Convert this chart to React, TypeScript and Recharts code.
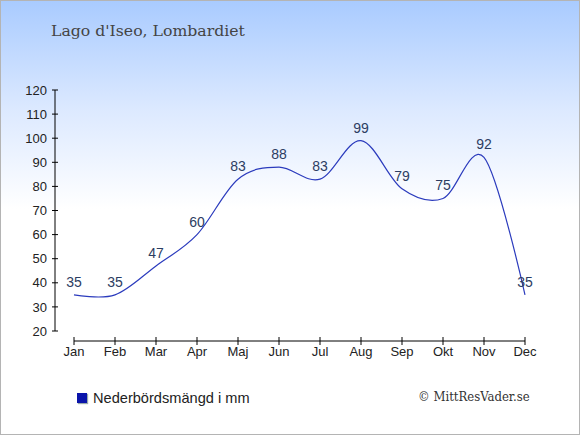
import React from "react";
import { LabelList, Line, LineChart, XAxis, YAxis } from "recharts";

const months = ["Jan", "Feb", "Mar", "Apr", "Maj", "Jun", "Jul", "Aug", "Sep", "Okt", "Nov", "Dec"];
const rainfall = [35, 35, 47, 60, 83, 88, 83, 99, 79, 75, 92, 35];
const yTicks = [20, 30, 40, 50, 60, 70, 80, 90, 100, 110, 120];

const data = months.map((month, i) => ({ month, rain: rainfall[i] }));

// cardinal spline (tension 0), same as d3.curveCardinal
class Cardinal {
  _context: any;
  _k = 1 / 6;
  _point = 0;
  _x0 = NaN; _x1 = NaN; _x2 = NaN;
  _y0 = NaN; _y1 = NaN; _y2 = NaN;
  constructor(context: any) {
    this._context = context;
  }
  areaStart() {}
  areaEnd() {}
  lineStart() {
    this._x0 = this._x1 = this._x2 = NaN;
    this._y0 = this._y1 = this._y2 = NaN;
    this._point = 0;
  }
  lineEnd() {
    if (this._point === 2) this._context.lineTo(this._x2, this._y2);
    else if (this._point === 3) this.bez(this._x1, this._y1);
  }
  bez(x: number, y: number) {
    this._context.bezierCurveTo(
      this._x1 + this._k * (this._x2 - this._x0),
      this._y1 + this._k * (this._y2 - this._y0),
      this._x2 + this._k * (this._x1 - x),
      this._y2 + this._k * (this._y1 - y),
      this._x2,
      this._y2
    );
  }
  point(x: number, y: number) {
    x = +x;
    y = +y;
    if (this._point === 0) {
      this._point = 1;
      this._context.moveTo(x, y);
    } else if (this._point === 1) {
      this._point = 2;
      this._x1 = x;
      this._y1 = y;
    } else {
      if (this._point === 2) this._point = 3;
      this.bez(x, y);
    }
    this._x0 = this._x1; this._x1 = this._x2; this._x2 = x;
    this._y0 = this._y1; this._y1 = this._y2; this._y2 = y;
  }
}

const cardinal = (context: any) => new Cardinal(context);

const sans = "'Liberation Sans', Arial, sans-serif";
const serif = "'DejaVu Serif', 'Liberation Serif', serif";

export default function App() {
  return (
    <div
      style={{
        position: "absolute",
        left: 0,
        top: 0,
        width: 580,
        height: 435,
        boxSizing: "border-box",
        border: "1px solid #b4b4b4",
        background: "linear-gradient(to bottom, #a9cbff 0%, #dce9ff 25%, #ffffff 48%, #ffffff 100%)",
        overflow: "hidden",
      }}
    >
      <div style={{ position: "absolute", left: 50, top: 20, fontFamily: serif, fontSize: 15.7, color: "#444" }}>
        Lago d'Iseo, Lombardiet
      </div>
      <div
        style={{
          position: "absolute",
          left: 76,
          top: 389,
          display: "flex",
          alignItems: "center",
          fontFamily: sans,
          fontSize: 14.6,
          color: "#222",
        }}
      >
        <span
          style={{
            display: "inline-block",
            width: 10,
            height: 10,
            background: "#0a14aa",
            marginRight: 6,
            boxShadow: "1px 1px 1px #9aa",
          }}
        />
        Nederbördsmängd i mm
      </div>
      <div
        style={{
          position: "absolute",
          left: 417,
          top: 388,
          fontFamily: "'DejaVu Serif Condensed', 'DejaVu Serif', serif",
          fontSize: 13,
          color: "#333",
        }}
      >
        © MittResVader.se
      </div>
      <LineChart
        width={578}
        height={433}
        data={data}
        margin={{ top: 89, right: 54, left: 0, bottom: 63 }}
        style={{ position: "absolute", left: 0, top: 0 }}
      >
        <XAxis
          dataKey="month"
          padding={{ left: 19, right: 0 }}
          tickSize={8}
          tickMargin={-2}
          axisLine={{ stroke: "#000", strokeDasharray: "0 19 1000" }}
          tickLine={{ stroke: "#000", transform: "translate(0,-4)" }}
          tick={{ fill: "#222", fontSize: 13, fontFamily: sans }}
          interval={0}
          height={30}
        />
        <YAxis
          domain={[20, 120]}
          ticks={yTicks}
          padding={{ top: 0, bottom: 10 }}
          width={54}
          tickSize={6}
          tickMargin={2}
          axisLine={{ stroke: "#000", strokeDasharray: "241 100" }}
          tickLine={{ stroke: "#000", transform: "translate(3,0)" }}
          tick={{ fill: "#222", fontSize: 13, fontFamily: sans }}
          interval={0}
        />
        <Line
          dataKey="rain"
          type={cardinal as any}
          stroke="#2b3bbd"
          strokeWidth={1.2}
          dot={false}
          activeDot={false}
          isAnimationActive={false}
        >
          <LabelList dataKey="rain" position="top" offset={8} fill="#2c3d62" fontSize={14} fontFamily={sans} />
        </Line>
      </LineChart>
    </div>
  );
}
